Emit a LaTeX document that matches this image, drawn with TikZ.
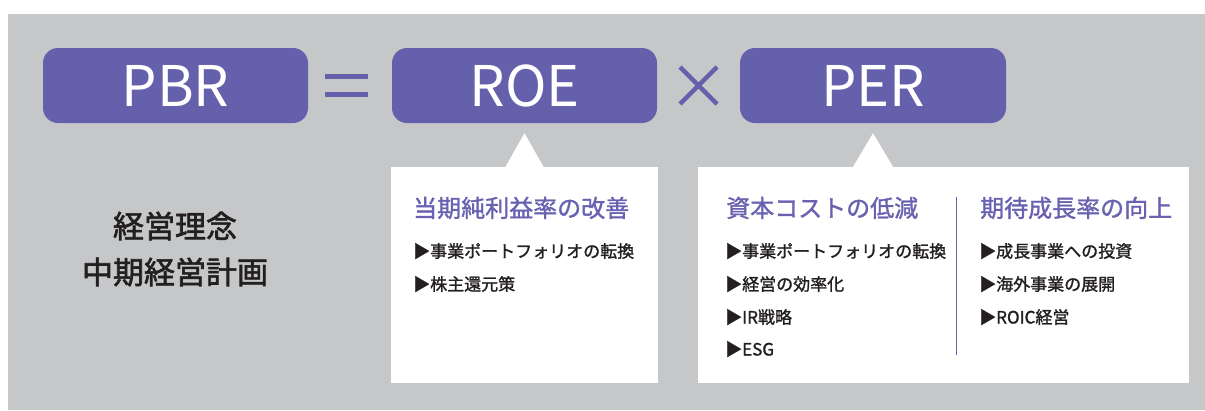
\documentclass[tikz,border=0pt]{standalone}
\usepackage{fontspec}
\setmainfont{Noto Sans CJK JP}
\newfontfamily\heavyfont{Noto Sans CJK JP}[FakeBold=1.4]
\newfontfamily\mottofont{Noto Sans CJK JP}[FakeBold=2]
\definecolor{ratiopurple}{HTML}{6560AB}
\definecolor{headpurple}{HTML}{6A62B1}
\definecolor{panelgray}{HTML}{C6C7C9}
\definecolor{inkdark}{HTML}{231F20}
\tikzset{
	ratiobox/.style={fill=ratiopurple, rounded corners=15pt, minimum width=265pt, minimum height=75pt,
		inner sep=0pt, text=white, font=\fontsize{56}{56}\selectfont},
	notepanel/.style={fill=white, inner sep=0pt, minimum height=216pt},
	headline/.style={anchor=west, inner sep=0pt, text=headpurple, text height=21pt, text depth=3pt,
		font=\heavyfont\fontsize{24}{24}\selectfont},
	bulletline/.style={anchor=west, inner sep=0pt, text=inkdark, text height=15pt, text depth=2pt,
		font=\heavyfont\fontsize{17}{17}\selectfont},
	mottoline/.style={inner sep=0pt, text=inkdark, font=\mottofont\fontsize{31}{31}\selectfont},
}
\begin{document}
\begin{tikzpicture}[x=1pt, y=-1pt]
	\useasboundingbox (0,0) rectangle (1205,410);
	\fill[panelgray] (8,14) rectangle (1205,410);

	% top row
	\node[ratiobox] (pbr) at (175.5,85.5) {PBR};
	\node[ratiobox] (roe) at (524.5,85.5) {ROE};
	\node[ratiobox, minimum width=266pt] (per) at (873,85.5) {PER};
	\foreach \y in {76.5,94.5}
		\draw[ratiopurple, line width=5pt] (325,\y) -- (368,\y);
	\draw[ratiopurple, line width=4.5pt] (680,67) -- (717,104) (680,104) -- (717,67);

	% panels with pointers
	\node[notepanel, minimum width=267pt] (roepanel) at (524.5,275) {};
	\node[notepanel, minimum width=491pt] (perpanel) at (943.5,275) {};
	\fill[white] ([yshift=-10pt]roe.south) -- ([xshift=-19pt]roe.south |- roepanel.north)
		-- ([xshift=19pt]roe.south |- roepanel.north) -- cycle;
	\fill[white] ([yshift=-10pt]per.south) -- ([xshift=-20pt]per.south |- perpanel.north)
		-- ([xshift=20pt]per.south |- perpanel.north) -- cycle;

	% left
	\node[mottoline] (rinen) at (175,226) {経営理念};
	\node[mottoline] (chuki) at (175,272) {中期経営計画};

	% ROE
	\node[headline] (roehead) at (413,208) {当期純利益率の改善};
	\node[bulletline] (roeA) at (413,251) {▶事業ポートフォリオの転換};
	\node[bulletline] (roeB) at (413,284) {▶株主還元策};

	% PER
	\node[headline] (costhead) at (726,208) {資本コストの低減};
	\node[bulletline] (costA) at (725,251) {▶事業ポートフォリオの転換};
	\node[bulletline] (costB) at (725,284) {▶経営の効率化};
	\node[bulletline] (costC) at (725,317) {▶IR戦略};
	\node[bulletline] (costD) at (725,349) {▶ESG};
	\draw[ratiopurple, line width=1pt] (956,197) -- (956,355);
	\node[headline] (growhead) at (980,208) {期待成長率の向上};
	\node[bulletline] (growA) at (979,251) {▶成長事業への投資};
	\node[bulletline] (growB) at (979,284) {▶海外事業の展開};
	\node[bulletline] (growC) at (979,317) {▶ROIC経営};
\end{tikzpicture}
\end{document}
